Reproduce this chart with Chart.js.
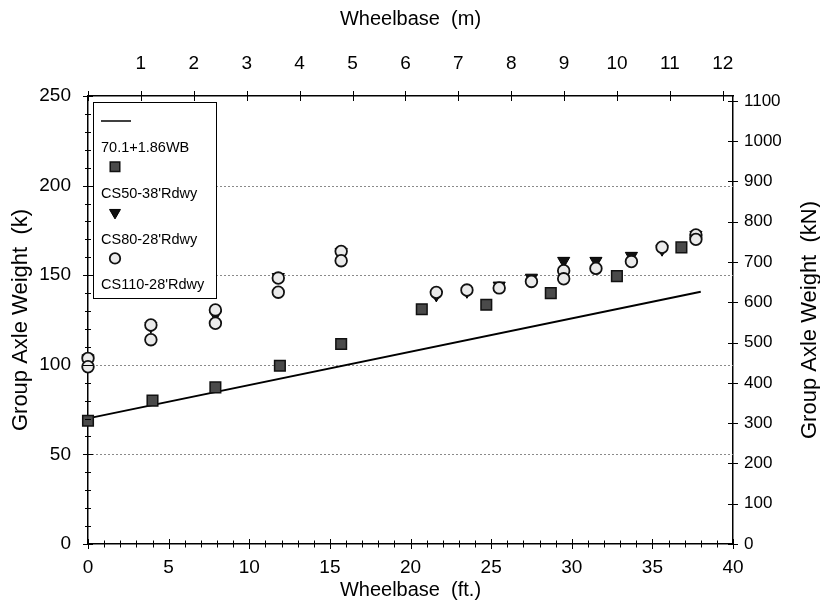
<!DOCTYPE html>
<html>
<head>
<meta charset="utf-8">
<script src="https://cdn.jsdelivr.net/npm/chart.js@4/dist/chart.umd.min.js"></script>
<style>
html,body{margin:0;padding:0;background:#fff;}
#wrap{width:820px;height:613px;}
</style>
</head>
<body>
<div id="wrap"><canvas id="c" width="820" height="613"></canvas></div>
<script>
// ---------------- data ----------------
const lineLabel = '70.1+1.86WB';
const lineX = [0, 38];
const lineY = [70.1, 140.8];

const cs50Label = "CS50-38'Rdwy";
const cs50X = [0, 4, 7.9, 11.9, 15.7, 20.7, 24.7, 28.7, 32.8, 36.8];
const cs50Y = [68.8, 80, 87.4, 99.5, 111.6, 131, 133.5, 140, 149.5, 165.5];

const cs80Label = "CS80-28'Rdwy";
const cs80X = [0, 3.9, 7.9, 11.8, 15.7, 21.6, 23.5, 25.5, 27.5, 29.5, 31.5, 33.7, 35.6, 37.7];
const cs80Y = [103.6, 121.6, 128, 149, 163, 139, 141, 144.2, 148.6, 158, 158, 160.8, 164.5, 172.5];

const cs110Label = "CS110-28'Rdwy";
const cs110X = [0, 0, 3.9, 3.9, 7.9, 7.9, 11.8, 11.8, 15.7, 15.7, 21.6, 23.5, 25.5, 27.5, 29.5, 29.5, 31.5, 33.7, 35.6, 37.7, 37.7];
const cs110Y = [103.6, 98.9, 122.2, 114, 130.6, 123.2, 148.4, 140.5, 163.3, 158.1, 140.4, 141.7, 142.9, 146.5, 152.5, 148, 153.8, 157.6, 165.6, 172.5, 170];

// axis ranges / ticks
const ftRange = [0, 40];
const mRange = [0, 12.192];      // 40 ft in metres
const kRange = [0, 250];
const kNRange = [0, 1112];       // 250 k in kN
const ftStep = 1, ftLabelEvery = 5;
const mStep = 1;
const kStep = 10, kLabelEvery = 50;
const kNStep = 100;

const titleBottom = 'Wheelbase  (ft.)';
const titleTop = 'Wheelbase  (m)';
const titleLeft = 'Group Axle Weight  (k)';
const titleRight = 'Group Axle Weight  (kN)';

const pts = (xs, ys) => xs.map((x, i) => ({x: x, y: ys[i]}));
const FONT = "'Liberation Sans', Arial, Helvetica, sans-serif";

// ---------------- plugins ----------------
const gridPlugin = {
  id: 'dottedGrid',
  beforeDatasetsDraw(chart) {
    const ctx = chart.ctx, a = chart.chartArea, s = chart.scales.y;
    ctx.save();
    ctx.strokeStyle = '#8a8a8a';
    ctx.lineWidth = 1;
    ctx.setLineDash([2, 2]);
    s.ticks.forEach(t => {
      if (t.value % kLabelEvery === 0 && t.value > s.min && t.value < s.max) {
        const p = Math.round(s.getPixelForValue(t.value)) + 0.5;
        ctx.beginPath(); ctx.moveTo(a.left, p); ctx.lineTo(a.right, p); ctx.stroke();
      }
    });
    ctx.restore();
  }
};

const crossTicks = {
  id: 'crossTicks',
  afterDraw(chart) {
    const ctx = chart.ctx;
    ctx.save();
    ctx.strokeStyle = '#000';
    ctx.lineWidth = 1;
    const sc = chart.scales;
    const drawH = (scale, yLine, lenFn) => {
      scale.ticks.forEach(t => {
        const p = Math.round(scale.getPixelForValue(t.value)) + 0.5;
        const L = lenFn(t.value);
        ctx.beginPath(); ctx.moveTo(p, yLine - L); ctx.lineTo(p, yLine + L); ctx.stroke();
      });
    };
    const drawV = (scale, xLine, lenFn) => {
      scale.ticks.forEach(t => {
        const p = Math.round(scale.getPixelForValue(t.value)) + 0.5;
        const L = lenFn(t.value);
        ctx.beginPath(); ctx.moveTo(xLine - L, p); ctx.lineTo(xLine + L, p); ctx.stroke();
      });
    };
    const a = chart.chartArea;
    drawH(sc.x, a.bottom, v => (v % ftLabelEvery === 0 ? 5 : 3.5));
    drawH(sc.x2, a.top, v => 5);
    drawV(sc.y, a.left, v => (v % kLabelEvery === 0 ? 5 : 3));
    drawV(sc.y2, a.right, v => 5);
    ctx.restore();
  }
};

const rightTitle = {
  id: 'rightTitle',
  afterDraw(chart) {
    const ctx = chart.ctx, a = chart.chartArea;
    ctx.save();
    ctx.translate(chart.width - 10, (a.top + a.bottom) / 2);
    ctx.rotate(-Math.PI / 2);
    ctx.font = '22px ' + FONT;
    ctx.fillStyle = '#000';
    ctx.textAlign = 'center';
    ctx.textBaseline = 'middle';
    ctx.fillText(titleRight, 0, 0);
    ctx.restore();
  }
};

const boxLegend = {
  id: 'boxLegend',
  afterDraw(chart) {
    const ctx = chart.ctx, a = chart.chartArea;
    const x0 = a.left + 5, y0 = a.top + 6, w = 123, h = 196;
    ctx.save();
    ctx.fillStyle = '#fff';
    ctx.fillRect(x0, y0, w, h);
    ctx.strokeStyle = '#000';
    ctx.lineWidth = 1;
    ctx.strokeRect(x0 + 0.5, y0 + 0.5, w, h);
    ctx.font = '14.5px ' + FONT;
    ctx.textBaseline = 'middle';
    ctx.textAlign = 'left';
    chart.data.datasets.forEach((ds, i) => {
      const sy = y0 + 19 + i * 45.8;
      const sx = x0 + 22;
      if (ds.showLine && !ds.pointRadius) {
        ctx.strokeStyle = ds.borderColor; ctx.lineWidth = 1.5;
        ctx.beginPath(); ctx.moveTo(x0 + 8, sy); ctx.lineTo(x0 + 38, sy); ctx.stroke();
      } else {
        ctx.fillStyle = ds.backgroundColor;
        ctx.strokeStyle = ds.borderColor;
        ctx.lineWidth = ds.borderWidth;
        Chart.helpers.drawPoint(ctx, {pointStyle: ds.pointStyle, rotation: ds.rotation || 0, radius: ds.pointRadius * 0.9, borderWidth: ds.borderWidth}, sx, sy);
      }
      ctx.fillStyle = '#000';
      ctx.fillText(ds.label, x0 + 8, sy + 27);
    });
    ctx.restore();
  }
};

// ---------------- chart ----------------
new Chart(document.getElementById('c'), {
  type: 'scatter',
  data: {
    datasets: [
      {label: lineLabel, data: pts(lineX, lineY), showLine: true, borderColor: '#000', borderWidth: 2,
       pointRadius: 0, backgroundColor: '#000', order: 4, clip: false},
      {label: cs50Label, data: pts(cs50X, cs50Y), pointStyle: 'rect', pointRadius: 7.5,
       backgroundColor: '#4a4a4a', borderColor: '#111', borderWidth: 1.5, order: 3, clip: false},
      {label: cs80Label, data: pts(cs80X, cs80Y), pointStyle: 'triangle', rotation: 180, pointRadius: 7,
       backgroundColor: '#111', borderColor: '#000', borderWidth: 1, order: 2, clip: false},
      {label: cs110Label, data: pts(cs110X, cs110Y), pointStyle: 'circle', pointRadius: 5.8,
       backgroundColor: '#ebebeb', borderColor: '#111', borderWidth: 1.8, order: 1, clip: false}
    ]
  },
  options: {
    responsive: false,
    animation: false,
    devicePixelRatio: 1,
    layout: {padding: 0},
    plugins: {legend: {display: false}, tooltip: {enabled: false}},
    scales: {
      x: {
        type: 'linear', position: 'bottom', min: ftRange[0], max: ftRange[1],
        afterFit: s => { s.height = 69; },
        grid: {display: false, drawTicks: false},
        border: {display: true, color: '#000', width: 1.5},
        ticks: {stepSize: ftStep, autoSkip: false, maxRotation: 0, padding: 12, color: '#000',
                font: {family: FONT, size: 19},
                callback: v => (v % ftLabelEvery === 0 ? String(v) : '')},
        title: {display: true, text: titleBottom, color: '#000', font: {family: FONT, size: 20},
                padding: {top: 0, bottom: 11}}
      },
      x2: {
        type: 'linear', position: 'top', min: mRange[0], max: mRange[1],
        afterFit: s => { s.height = 96; },
        grid: {display: false, drawTicks: false},
        border: {display: true, color: '#000', width: 1.5},
        ticks: {stepSize: mStep, includeBounds: false, autoSkip: false, maxRotation: 0, padding: 21, color: '#000',
                font: {family: FONT, size: 19},
                callback: v => (v === 0 ? '' : String(v))},
        title: {display: true, text: titleTop, color: '#000', font: {family: FONT, size: 20},
                padding: {top: 7, bottom: 0}}
      },
      y: {
        type: 'linear', position: 'left', min: kRange[0], max: kRange[1],
        afterFit: s => { s.width = 88; },
        grid: {display: false, drawTicks: false},
        border: {display: true, color: '#000', width: 1.5},
        ticks: {stepSize: kStep, autoSkip: false, padding: 17, color: '#000',
                font: {family: FONT, size: 19},
                callback: v => (v % kLabelEvery === 0 ? String(v) : '')},
        title: {display: true, text: titleLeft, color: '#000', font: {family: FONT, size: 22},
                padding: {top: 8, bottom: 0}}
      },
      y2: {
        type: 'linear', position: 'right', min: kNRange[0], max: kNRange[1],
        afterFit: s => { s.width = 87; },
        grid: {display: false, drawTicks: false},
        border: {display: true, color: '#000', width: 1.5},
        ticks: {stepSize: kNStep, includeBounds: false, autoSkip: false, padding: 11, color: '#000',
                font: {family: FONT, size: 17},
                callback: v => String(v)},
        title: {display: false}
      }
    }
  },
  plugins: [gridPlugin, crossTicks, rightTitle, boxLegend]
});
</script>
</body>
</html>
